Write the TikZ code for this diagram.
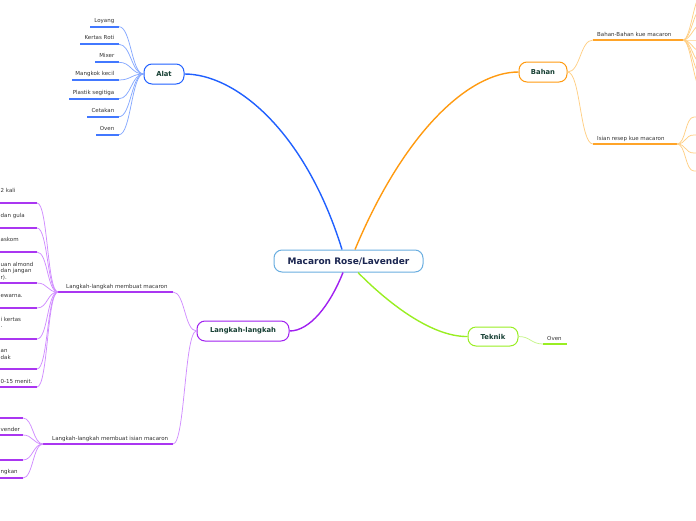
\documentclass[tikz,border=0pt]{standalone}
\usepackage{fontspec}
\setmainfont{DejaVu Sans}
\definecolor{cblue}{HTML}{2060FF}
\definecolor{cbluel}{HTML}{85A8FF}
\definecolor{corange}{HTML}{FF9A10}
\definecolor{corangel}{HTML}{FFCF85}
\definecolor{cpurple}{HTML}{A020F0}
\definecolor{cpurplel}{HTML}{D08CFF}
\definecolor{cgreen}{HTML}{99EE22}
\definecolor{cgreenl}{HTML}{C6F58A}
\definecolor{ccenter}{HTML}{6AAEE0}
\definecolor{ctextnode}{HTML}{163F33}
\definecolor{ctextc}{HTML}{1A2550}
\definecolor{cleaf}{HTML}{333333}
\begin{document}
\begin{tikzpicture}[x=1pt,y=-1pt,
  mainnode/.style={draw, rounded corners=8pt, line width=1pt, fill=white,
    font=\fontsize{6.8}{8}\selectfont\bfseries, text=ctextnode, minimum height=20pt, inner sep=0pt},
  leaf/.style={font=\fontsize{5.5}{6.5}\selectfont, text=cleaf, inner sep=0pt, align=left},
  ul/.style={line width=1.7pt},
  conn/.style={line width=0.75pt},
  mainline/.style={line width=1.4pt}]
\useasboundingbox (0,0) rectangle (696,520);
\clip (0,0) rectangle (696,520);

% central and main nodes
\node[draw=ccenter, rounded corners=8pt, line width=1pt, fill=white, minimum width=149pt,
  minimum height=22pt, inner sep=0pt, font=\fontsize{9}{10}\selectfont\bfseries, text=ctextc]
  (center) at (348.5,261) {Macaron Rose/Lavender};
\node[mainnode, draw=cblue, minimum width=40pt] (alat) at (164,74) {Alat};
\node[mainnode, draw=corange, minimum width=48pt] (bahan) at (543,72) {Bahan};
\node[mainnode, draw=cpurple, minimum width=92pt] (langkah) at (243,331) {Langkah-langkah};
\node[mainnode, draw=cgreen, minimum width=50pt, minimum height=19pt] (teknik) at (493,336.5) {Teknik};

\draw[cblue, mainline] ([xshift=-6.5pt]center.north) .. controls (305,130) and (235,74) .. (alat.east);
\draw[corange, mainline] ([xshift=6.5pt]center.north) .. controls (405,130) and (470,72) .. (bahan.west);
\draw[cpurple, mainline] ([xshift=-5.5pt]center.south) .. controls (330,305) and (310,331) .. (langkah.east);
\draw[cgreen, mainline] ([xshift=9.5pt]center.south) .. controls (385,300) and (430,337) .. (teknik.west);

% Alat leaves
\foreach \i/\x/\y/\t in {1/90/26.7/Loyang, 2/80/44.3/Kertas Roti, 3/95/62.3/Mixer,
  4/72/80/Mangkok kecil, 5/69/98.7/Plastik segitiga, 6/87/116.7/Cetakan, 7/96/134.7/Oven}{
  \coordinate (aR\i) at (119,\y);
  \coordinate (aL\i) at (\x,\y);
  \node[leaf, anchor=base east] (aT\i) at (114.5,\y-4.5) {\t};
  \draw[ul, cblue!85] (aL\i) -- (aR\i);
  \draw[conn, cbluel] (alat.west) .. controls +(-12,0) and +(12,0) .. (aR\i);
}

% Bahan subtopics
\coordinate (bbL) at (593,40); \coordinate (bbR) at (683,40);
\coordinate (biL) at (593,144); \coordinate (biR) at (677,144);
\draw[ul, corange!90] (bbL) -- (bbR);
\draw[ul, corange!90] (biL) -- (biR);
\node[leaf, anchor=base west] (bbT) at (597,36) {Bahan-Bahan kue macaron};
\node[leaf, anchor=base west] (biT) at (597,140) {Isian resep kue macaron};
\draw[conn, corangel] (bahan.east) .. controls +(13,0) and +(-13,0) .. (bbL);
\draw[conn, corangel] (bahan.east) .. controls +(13,0) and +(-13,0) .. (biL);
\foreach \i/\y in {1/-6, 2/8, 3/24, 4/40, 5/52, 6/64, 7/76, 8/90}{
  \coordinate (bbE\i) at (702,\y);
  \draw[conn, corangel] (bbR) .. controls +(8,0) and +(-8,0) .. (bbE\i);
}
\foreach \i/\y in {1/117, 2/135, 3/153, 4/171}{
  \coordinate (biE\i) at (694,\y);
  \coordinate (biF\i) at (702,\y);
  \draw[conn, corangel] (biR) .. controls +(9,0) and +(-9,0) .. (biE\i) -- (biF\i);
}

% Langkah subtopics
\coordinate (lmL) at (58,292); \coordinate (lmR) at (173,292);
\coordinate (liL) at (43,444); \coordinate (liR) at (173,444);
\draw[ul, cpurple!90] (lmL) -- (lmR);
\draw[ul, cpurple!90] (liL) -- (liR);
\node[leaf, anchor=base west] (lmT) at (66,288) {Langkah-langkah membuat macaron};
\node[leaf, anchor=base west] (liT) at (52,440) {Langkah-langkah membuat isian macaron};
\draw[conn, cpurplel] (langkah.west) .. controls +(-12,0) and +(12,0) .. (lmR);
\draw[conn, cpurplel] (langkah.west) .. controls +(-12,0) and +(12,0) .. (liR);

\foreach \i/\y in {1/203, 2/228, 3/252, 4/283, 5/308, 6/339, 7/369, 8/387}{
  \coordinate (mR\i) at (37,\y);
  \coordinate (mL\i) at (-5,\y);
  \draw[ul, cpurple!90] (mL\i) -- (mR\i);
  \draw[conn, cpurplel] (lmL) .. controls +(-11,0) and +(11,0) .. (mR\i);
}
\node[leaf, anchor=base west] (mT1) at (0.5,192) {2 kali};
\node[leaf, anchor=base west] (mT2) at (0.5,217) {dan gula};
\node[leaf, anchor=base west] (mT3) at (0.5,241) {askom};
\node[leaf, anchor=base west] (mT4) at (0.5,279) {uan almond\\dan jangan\\r).};
\node[leaf, anchor=base west] (mT5) at (0.5,297) {ewarna.};
\node[leaf, anchor=base west] (mT6) at (0.5,327.5) {i kertas\\.};
\node[leaf, anchor=base west] (mT7) at (0.5,359) {an\\dak};
\node[leaf, anchor=base west] (mT8) at (0.5,383) {0-15 menit.};

\foreach \i/\y in {1/418, 2/435, 3/460, 4/478}{
  \coordinate (iR\i) at (23,\y);
  \coordinate (iL\i) at (-5,\y);
  \draw[ul, cpurple!90] (iL\i) -- (iR\i);
  \draw[conn, cpurplel] (liL) .. controls +(-10,0) and +(10,0) .. (iR\i);
}
\node[leaf, anchor=base west] (iT2) at (0.5,431) {vender};
\node[leaf, anchor=base west] (iT4) at (0.5,473) {ngkan};

% Teknik leaf
\coordinate (tkL) at (543,344); \coordinate (tkR) at (567,344);
\draw[ul, cgreen] (tkL) -- (tkR);
\node[leaf, anchor=base west] (tkT) at (547,340) {Oven};
\draw[conn, cgreenl] (teknik.east) .. controls +(12,0) and +(-12,0) .. (tkL);
\end{tikzpicture}
\end{document}
